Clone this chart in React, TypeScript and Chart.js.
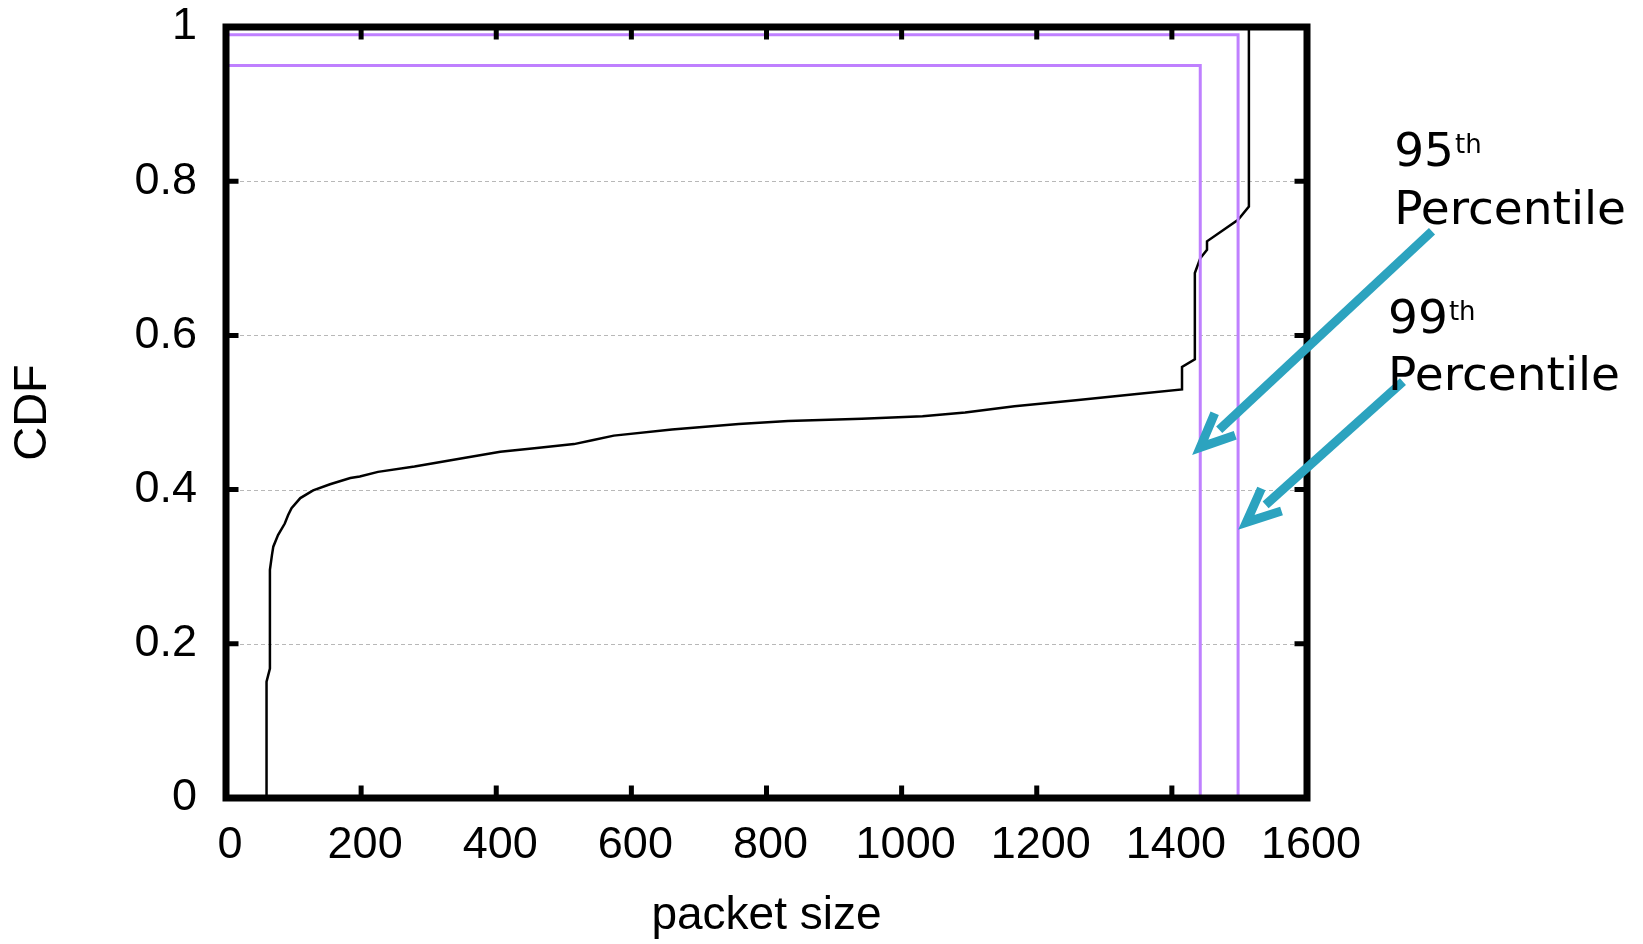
import React, { useEffect, useRef } from "react";
import { Chart, registerables } from "chart.js";

Chart.register(...registerables);

// ---- data ----
const cdfX = [60, 60, 65, 65, 68, 70, 77, 87, 92, 97, 110, 129, 154, 184, 198, 225, 279, 352, 406, 460, 515, 542, 574, 660, 759, 832, 941, 1031, 1094, 1167, 1258, 1348, 1415, 1415, 1434, 1434, 1442, 1452, 1452, 1498, 1514, 1514];
const cdfY = [0, 0.151, 0.168, 0.296, 0.315, 0.326, 0.341, 0.356, 0.367, 0.376, 0.389, 0.399, 0.407, 0.415, 0.417, 0.423, 0.43, 0.441, 0.449, 0.454, 0.459, 0.464, 0.47, 0.478, 0.485, 0.489, 0.492, 0.495, 0.5, 0.508, 0.516, 0.524, 0.53, 0.559, 0.569, 0.681, 0.7, 0.711, 0.722, 0.75, 0.767, 1.0];

const percentileNames = ["95", "99"];
const percentileLevels = [0.95, 0.99];
const percentileSizes = [1442, 1498];

// annotation anchors, in data units
const arrowStartX = [1785, 1742];
const arrowStartY = [0.735, 0.54];
const arrowTipX = [1430, 1498];
const arrowTipY = [0.445, 0.348];
const labelX = [1729, 1720];
const labelLine1Y = [0.82, 0.603];
const labelLine2Y = [0.745, 0.529];

const xTickStep = 200;
const yTickStep = 0.2;

const PURPLE = "#bf80ff";
const CYAN = "#2ca3bf";
const AXIS_FONT = "'Liberation Sans', Arial, Helvetica, sans-serif";
const NOTE_FONT = "'DejaVu Sans', Verdana, sans-serif";

function drawArrow(ctx: CanvasRenderingContext2D, sx: number, sy: number, tx: number, ty: number) {
  const ang = Math.atan2(ty - sy, tx - sx);
  const w = 9;
  const spread = (24 * Math.PI) / 180;
  const headLen = 37;
  const miter = w / 2 / Math.sin(spread);
  const vx = tx - miter * Math.cos(ang);
  const vy = ty - miter * Math.sin(ang);
  ctx.save();
  ctx.strokeStyle = CYAN;
  ctx.lineWidth = w;
  ctx.lineCap = "butt";
  ctx.lineJoin = "miter";
  ctx.miterLimit = 10;
  ctx.beginPath();
  ctx.moveTo(sx, sy);
  ctx.lineTo(tx - 37 * Math.cos(ang), ty - 37 * Math.sin(ang));
  ctx.stroke();
  ctx.beginPath();
  ctx.moveTo(vx - headLen * Math.cos(ang - spread), vy - headLen * Math.sin(ang - spread));
  ctx.lineTo(vx, vy);
  ctx.lineTo(vx - headLen * Math.cos(ang + spread), vy - headLen * Math.sin(ang + spread));
  ctx.stroke();
  ctx.restore();
}

const framePlugin = {
  id: "gnuplotFrame",
  beforeDatasetsDraw(chart: any) {
    const { ctx, chartArea: a, scales } = chart;
    const y = scales.y;
    ctx.save();
    ctx.strokeStyle = "#b8b8b8";
    ctx.lineWidth = 1;
    ctx.setLineDash([4, 3]);
    y.ticks.forEach((t: any) => {
      if (t.value <= y.min || t.value >= y.max) return;
      const py = Math.round(y.getPixelForValue(t.value)) + 0.5;
      ctx.beginPath();
      ctx.moveTo(a.left, py);
      ctx.lineTo(a.right, py);
      ctx.stroke();
    });
    ctx.restore();
  },
  afterDatasetsDraw(chart: any) {
    const { ctx, chartArea: a, scales } = chart;
    const x = scales.x;
    const y = scales.y;
    ctx.save();
    // inward tick marks
    ctx.strokeStyle = "#000";
    ctx.lineWidth = 5;
    ctx.lineCap = "butt";
    const len = 12.5;
    x.ticks.forEach((t: any) => {
      if (t.value <= x.min || t.value >= x.max) return;
      const px = x.getPixelForValue(t.value);
      ctx.beginPath();
      ctx.moveTo(px, a.bottom);
      ctx.lineTo(px, a.bottom - len);
      ctx.moveTo(px, a.top);
      ctx.lineTo(px, a.top + len);
      ctx.stroke();
    });
    y.ticks.forEach((t: any) => {
      if (t.value <= y.min || t.value >= y.max) return;
      const py = y.getPixelForValue(t.value);
      ctx.beginPath();
      ctx.moveTo(a.left, py);
      ctx.lineTo(a.left + len, py);
      ctx.moveTo(a.right, py);
      ctx.lineTo(a.right - len, py);
      ctx.stroke();
    });
    // frame
    ctx.lineWidth = 7;
    ctx.lineJoin = "miter";
    ctx.strokeRect(a.left, a.top, a.right - a.left, a.bottom - a.top);
    ctx.restore();
  },
  afterDraw(chart: any) {
    const { ctx, scales } = chart;
    const x = scales.x;
    const y = scales.y;
    for (let i = 0; i < arrowTipX.length; i++) {
      drawArrow(
        ctx,
        x.getPixelForValue(arrowStartX[i]),
        y.getPixelForValue(arrowStartY[i]),
        x.getPixelForValue(arrowTipX[i]),
        y.getPixelForValue(arrowTipY[i])
      );
    }
    ctx.save();
    ctx.fillStyle = "#000";
    ctx.textAlign = "left";
    ctx.textBaseline = "alphabetic";
    for (let i = 0; i < percentileNames.length; i++) {
      const lx = x.getPixelForValue(labelX[i]);
      const l1 = y.getPixelForValue(labelLine1Y[i]);
      const l2 = y.getPixelForValue(labelLine2Y[i]);
      ctx.font = `47px ${NOTE_FONT}`;
      ctx.fillText(percentileNames[i], lx, l1);
      const w = ctx.measureText(percentileNames[i]).width;
      ctx.fillText("Percentile", lx, l2);
      ctx.font = `26px ${NOTE_FONT}`;
      ctx.fillText("th", lx + w + 1, l1 - 13);
    }
    ctx.restore();
  },
};

export default function App() {
  const canvasRef = useRef<HTMLCanvasElement | null>(null);

  useEffect(() => {
    const canvas = canvasRef.current;
    if (!canvas) return;
    const cdfPoints = cdfX.map((v, i) => ({ x: v, y: cdfY[i] }));
    const pctDatasets = percentileSizes.map((s, i) => ({
      label: percentileNames[i] + "th percentile",
      data: [
        { x: 0, y: percentileLevels[i] },
        { x: s, y: percentileLevels[i] },
        { x: s, y: 0 },
      ],
      borderColor: PURPLE,
      borderWidth: 3,
      pointRadius: 0,
      showLine: true,
      tension: 0,
    }));
    const chart = new Chart(canvas, {
      type: "scatter",
      data: {
        datasets: [
          ...pctDatasets,
          {
            label: "CDF",
            data: cdfPoints,
            borderColor: "#000",
            borderWidth: 2.5,
            pointRadius: 0,
            showLine: true,
            tension: 0,
          },
        ],
      },
      options: {
        animation: false,
        responsive: false,
        devicePixelRatio: 1,
        events: [],
        layout: { padding: { left: 0, top: 27, right: 336, bottom: 0 } },
        plugins: {
          legend: { display: false },
          tooltip: { enabled: false },
        },
        scales: {
          x: {
            type: "linear",
            min: 0,
            max: 1600,
            grid: { display: false, drawTicks: false },
            border: { display: false },
            ticks: {
              stepSize: xTickStep,
              color: "#000",
              padding: 21,
              labelOffset: 4,
              maxRotation: 0,
              autoSkip: false,
              font: { family: AXIS_FONT, size: 45, lineHeight: 1.2 },
              callback: (v: any) => String(v),
            },
            title: {
              display: true,
              text: "packet size",
              color: "#000",
              font: { family: AXIS_FONT, size: 46, lineHeight: 1.2 },
              padding: { top: 0, bottom: 0 },
            },
            afterFit: (s: any) => {
              s.height = 146;
              s.paddingLeft = 0;
              s.paddingRight = 0;
            },
          },
          y: {
            type: "linear",
            min: 0,
            max: 1,
            grid: { display: false, drawTicks: false },
            border: { display: false },
            ticks: {
              stepSize: yTickStep,
              color: "#000",
              padding: 29,
              autoSkip: false,
              font: { family: AXIS_FONT, size: 45, lineHeight: 1.2 },
              callback: (v: any) => String(+Number(v).toFixed(1)),
            },
            title: {
              display: true,
              text: "CDF",
              color: "#000",
              font: { family: AXIS_FONT, size: 47, lineHeight: 1.2 },
              padding: { top: 5, bottom: 0 },
            },
            afterFit: (s: any) => {
              s.width = 226;
              s.paddingTop = 0;
              s.paddingBottom = 0;
            },
          },
        },
      },
      plugins: [framePlugin],
    });
    return () => chart.destroy();
  }, []);

  return (
    <div style={{ position: "absolute", left: 0, top: 0, width: 1643, height: 944, background: "#fff" }}>
      <canvas ref={canvasRef} width={1643} height={944} style={{ width: 1643, height: 944, display: "block" }} />
    </div>
  );
}
